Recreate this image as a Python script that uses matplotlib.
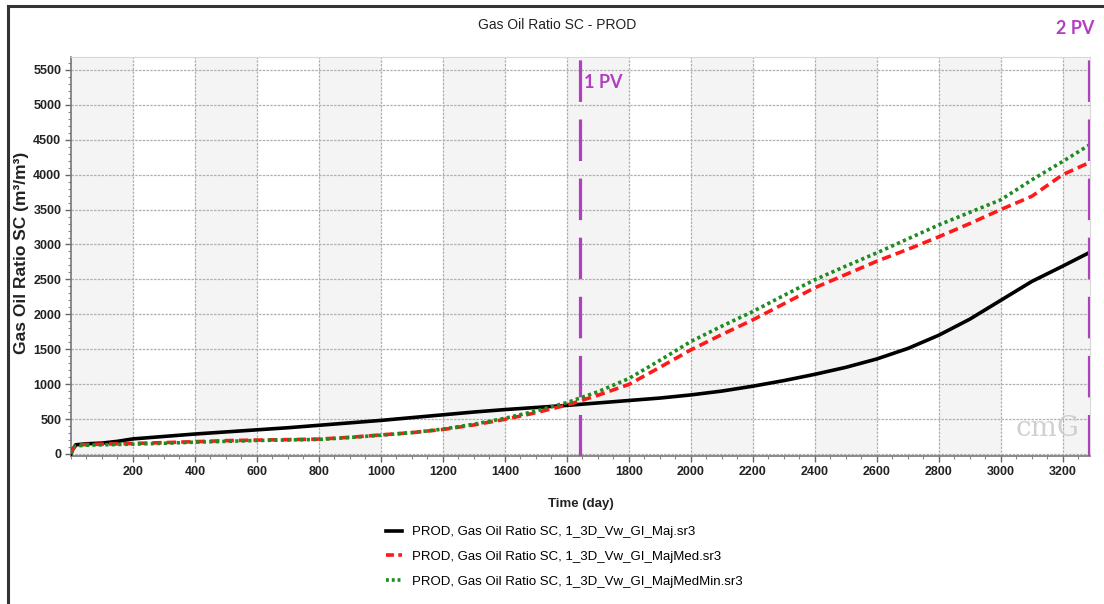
import numpy as np
import matplotlib
matplotlib.use('Agg')
import matplotlib.pyplot as plt
from matplotlib.lines import Line2D

# tid (dager) og GOR for de tre simuleringene
tid = [0, 5, 15, 50, 100, 150, 200, 300, 400, 500, 600, 700, 800, 900, 1000,
       1100, 1200, 1300, 1400, 1500, 1600, 1700, 1800, 1900, 2000, 2100, 2200,
       2300, 2400, 2500, 2600, 2700, 2800, 2900, 3000, 3100, 3200, 3284]
gor_maj = [0, 60, 130, 145, 155, 180, 215, 250, 285, 315, 345, 375, 410, 445, 480,
           520, 560, 600, 635, 665, 695, 730, 765, 800, 845, 900, 970,
           1050, 1140, 1240, 1360, 1510, 1700, 1930, 2200, 2470, 2690, 2880]
gor_majmed = [0, 60, 125, 135, 140, 145, 150, 162, 175, 190, 198, 205, 212, 238, 272,
              305, 350, 415, 495, 590, 700, 840, 995, 1240, 1490, 1710, 1920,
              2150, 2380, 2570, 2760, 2930, 3110, 3300, 3500, 3690, 4000, 4170]
gor_majmedmin = [0, 55, 115, 125, 130, 135, 140, 152, 168, 180, 192, 200, 207, 235, 268,
                 305, 355, 425, 510, 615, 735, 890, 1080, 1340, 1610, 1830, 2040,
                 2270, 2495, 2690, 2880, 3080, 3280, 3460, 3640, 3925, 4190, 4420]
etiketter = ['PROD, Gas Oil Ratio SC, 1_3D_Vw_GI_Maj.sr3',
             'PROD, Gas Oil Ratio SC, 1_3D_Vw_GI_MajMed.sr3',
             'PROD, Gas Oil Ratio SC, 1_3D_Vw_GI_MajMedMin.sr3']
pv_tid = [1642, 3284]
pv_tekst = ['1 PV', '2 PV']

skrift = ['Liberation Sans', 'DejaVu Sans']
lilla = '#B23FBF'
tekstfarge = '#222222'

fig = plt.figure(figsize=(11.04, 6.04), dpi=100)
ax = fig.add_axes([71/1104, 1-456/604, (1090-71)/1104, (456-57)/604])

# vekslende grå kolonner
for x0 in range(0, 3400, 400):
    ax.axvspan(x0, x0+200, color='#F4F4F4', zorder=0, lw=0)

ax.plot(tid, gor_maj, color='black', lw=2.6, label=etiketter[0], zorder=3)
ax.plot(tid, gor_majmed, color='#FF1A1A', lw=2.6, dashes=(2.6, 1.4), label=etiketter[1], zorder=3)
ax.plot(tid, gor_majmedmin, color='#1E8C1E', lw=2.6, dashes=(0.9, 0.9), label=etiketter[2], zorder=4)

for t in pv_tid:
    ax.axvline(t, color=lilla, lw=2.3, dashes=(13, 5.5), zorder=5)

ax.set_xlim(0, 3288)
ax.set_ylim(-30, 5686)
ax.set_xticks(np.arange(200, 3300, 200))
ax.set_xticks(np.arange(0, 3300, 50), minor=True)
ax.set_yticks(np.arange(0, 5600, 500))
ax.set_yticks(np.arange(0, 5700, 100), minor=True)
ax.grid(True, which='major', color='#B0B0B0', lw=0.9, ls=(0, (2, 1)), zorder=1)
ax.set_axisbelow(True)
ax.tick_params(which='major', length=4, width=1, color='#666666', pad=3)
ax.tick_params(which='minor', length=2, width=0.8, color='#888888')
for lab in ax.get_xticklabels() + ax.get_yticklabels():
    lab.set_family(skrift)
    lab.set_fontweight('bold')
    lab.set_fontsize(9)
    lab.set_color(tekstfarge)

for s in ['left', 'bottom']:
    ax.spines[s].set_color('#777777')
    ax.spines[s].set_linewidth(1.2)
for s in ['top', 'right']:
    ax.spines[s].set_color('#D8D8D8')
    ax.spines[s].set_linewidth(0.8)

ax.set_xlabel('Time (day)', family=skrift, fontweight='bold', fontsize=9.5, color=tekstfarge)
ax.xaxis.set_label_coords(0.5, -(498-456)/399, transform=ax.transAxes)
ax.set_ylabel('Gas Oil Ratio SC (m³/m³)', family=skrift,
              fontweight='bold', fontsize=12.5, color=tekstfarge)
ax.yaxis.set_label_coords(-(71-29)/1019, 0.51)
fig.text(0.505, 1-25/604, 'Gas Oil Ratio SC - PROD', ha='center', va='center',
         family=skrift, fontsize=10, color=tekstfarge)

# PV-merker
ax.text(pv_tid[0] + 12, 5315, pv_tekst[0], color=lilla, fontsize=13, fontweight='bold',
        family=['Lato', 'DejaVu Sans'], va='center', ha='left')
fig.text(1075/1104, 1-28/604, pv_tekst[1], color=lilla, fontsize=13, fontweight='bold',
         family=['Lato', 'DejaVu Sans'], va='center', ha='center')

# vannmerke
ax.text(3150, 370, 'cmG', color='#D0D0D0', fontsize=20, family=['DejaVu Serif'],
        ha='center', va='center', zorder=2)

handles = [Line2D([], [], color='black', lw=2.6),
           Line2D([], [], color='#FF1A1A', lw=2.6, dashes=(2.2, 1.2)),
           Line2D([], [], color='#1E8C1E', lw=2.6, dashes=(0.8, 0.8))]
fig.legend(handles, etiketter, loc='upper left', bbox_to_anchor=(386/1104, 1-526/604),
           frameon=False, borderpad=0, borderaxespad=0, handlelength=1.2,
           handletextpad=0.75, labelspacing=0.95, prop={'family': skrift, 'size': 9.5})

# ramme (venstre og topp)
fig.add_artist(Line2D([8/1104, 8/1104], [0, 1-6/604], color='#333333', lw=2.2))
fig.add_artist(Line2D([8/1104, 1], [1-6/604, 1-6/604], color='#333333', lw=2.2))

fig.savefig('out.png', dpi=100)
